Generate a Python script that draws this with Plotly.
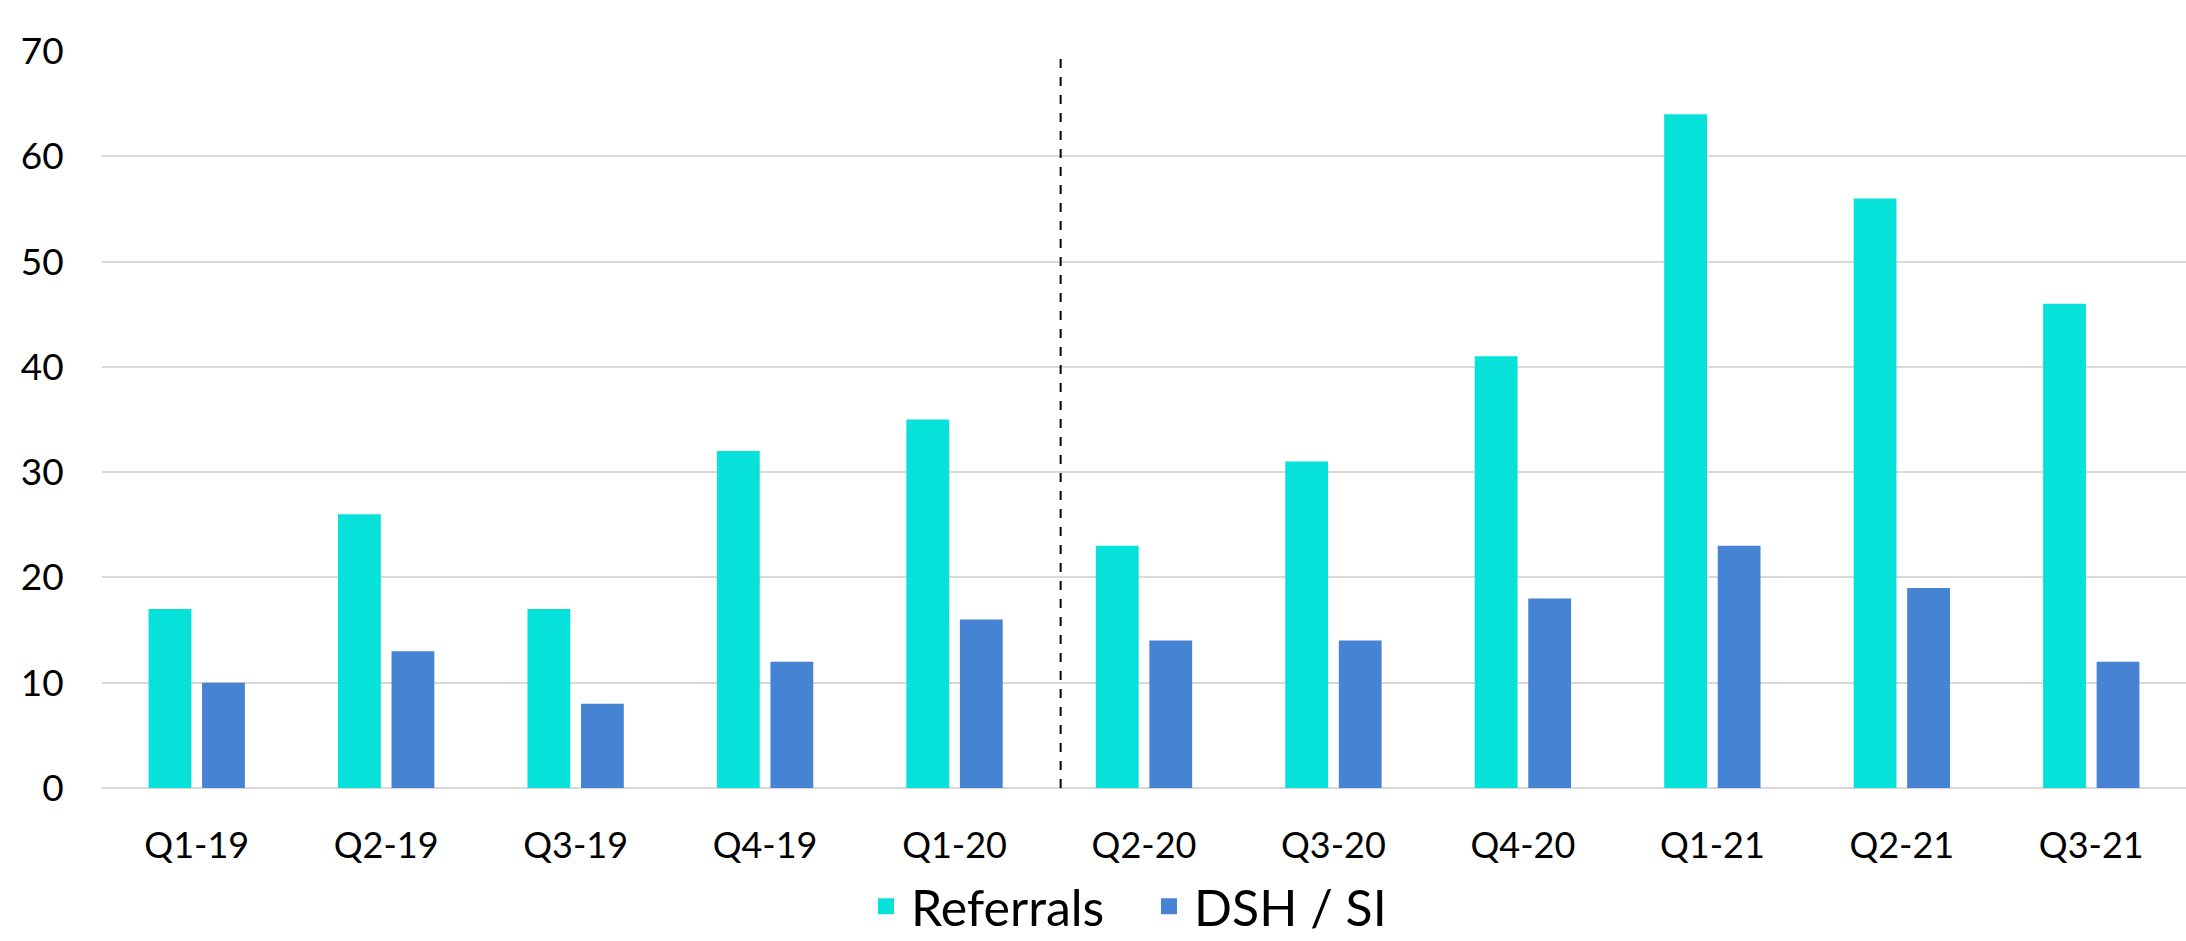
import plotly.graph_objects as go

categories = ["Q1-19", "Q2-19", "Q3-19", "Q4-19", "Q1-20", "Q2-20",
              "Q3-20", "Q4-20", "Q1-21", "Q2-21", "Q3-21"]
referrals = [17, 26, 17, 32, 35, 23, 31, 41, 64, 56, 46]
dsh_si = [10, 13, 8, 12, 16, 14, 14, 18, 23, 19, 12]
series_names = ["Referrals", "DSH / SI"]
series_colors = ["#06E1DA", "#4684D3"]
divider_x = 4.56
divider_top = 69.6

FONT = "Lato"

fig = go.Figure()
for name, vals, col in zip(series_names, [referrals, dsh_si], series_colors):
    fig.add_trace(go.Bar(name=name, x=categories, y=vals, showlegend=False,
                         marker=dict(color=col, line=dict(width=0))))
# legend entries with larger square swatches
for name, col in zip(series_names, series_colors):
    fig.add_trace(go.Scatter(name=name, x=[None], y=[None], mode="markers",
                             marker=dict(symbol="square", size=30, color=col),
                             showlegend=True))

fig.add_shape(type="line", xref="x", yref="y", x0=divider_x, x1=divider_x,
              y0=0, y1=divider_top, line=dict(color="black", width=2, dash="dash"))

fig.update_layout(
    width=2186, height=941,
    margin=dict(l=102, r=0, t=51, b=153, autoexpand=False),
    paper_bgcolor="white", plot_bgcolor="white",
    barmode="group", bargap=0.435, bargroupgap=0.2,
    font=dict(family=FONT, color="black"),
    showlegend=True,
    legend=dict(orientation="h", x=0.5, xanchor="center",
                yref="container", y=0.037, yanchor="middle",
                font=dict(size=50, family=FONT), itemwidth=40, traceorder="normal",
                entrywidth=228, itemsizing="trace"),
)
fig.update_xaxes(type="category", showgrid=False, showline=False, zeroline=False,
                 automargin=False,
                 ticks="outside", ticklen=26, tickcolor="rgba(0,0,0,0)",
                 tickfont=dict(size=36, family=FONT))
fig.update_yaxes(range=[0, 70], dtick=10, showgrid=True, gridcolor="#D9D9D9", gridwidth=2,
                 automargin=False,
                 zeroline=True, zerolinecolor="#D9D9D9", zerolinewidth=2, showline=False,
                 ticks="outside", ticklen=30, tickcolor="rgba(0,0,0,0)",
                 tickfont=dict(size=37, family=FONT))

fig.write_html("out.html")
